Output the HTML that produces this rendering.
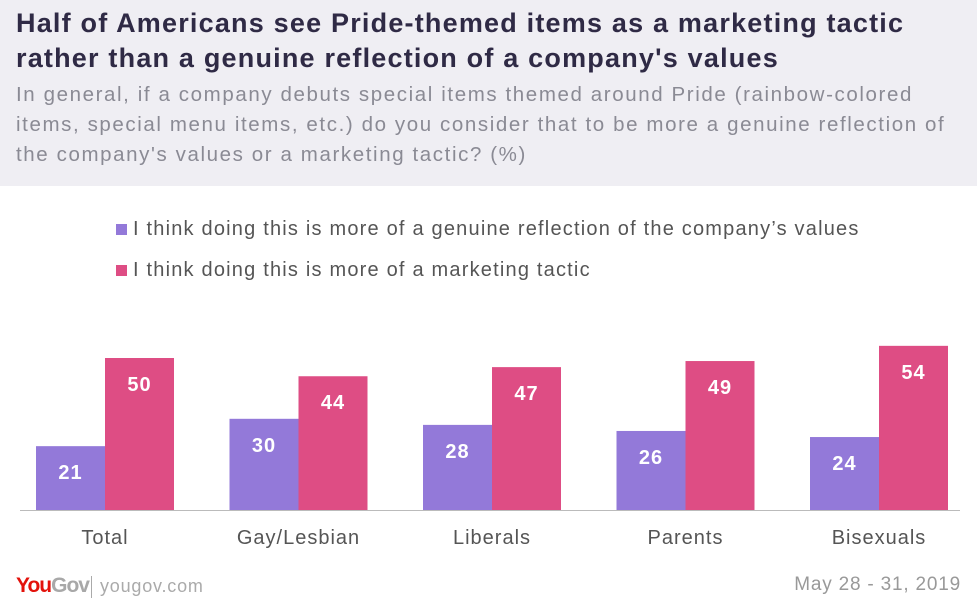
<!DOCTYPE html>
<html><head><meta charset="utf-8"><style>
body{margin:0;width:977px;height:602px;overflow:hidden;background:#fff;font-family:"Liberation Sans",sans-serif;position:relative}
.hdr{position:absolute;left:0;top:0;width:977px;height:186px;background:#efeef3}
.t{position:absolute;left:16px;font-weight:bold;font-size:27px;letter-spacing:1.2px;color:#2f2a45;white-space:nowrap}
.s{position:absolute;left:16px;font-size:20.5px;letter-spacing:1.6px;color:#8a8a94;white-space:nowrap}
.leg{position:absolute;left:116px;font-size:20px;letter-spacing:1.2px;color:#555;white-space:nowrap}
.leg i{display:inline-block;width:11px;height:11px;margin-right:6px}
</style></head><body>
<div class="hdr"></div>
<div class="t" style="top:8px">Half of Americans see Pride-themed items as a marketing tactic</div>
<div class="t" style="top:43px">rather than a genuine reflection of a company's values</div>
<div class="s" style="top:83px">In general, if a company debuts special items themed around Pride (rainbow-colored</div>
<div class="s" style="top:113px">items, special menu items, etc.) do you consider that to be more a genuine reflection of</div>
<div class="s" style="top:143px">the company's values or a marketing tactic? (%)</div>
<div class="leg" style="top:218px"><i style="background:#9379d9"></i>I think doing this is more of a genuine reflection of the company’s values</div>
<div class="leg" style="top:259px"><i style="background:#de4d84"></i>I think doing this is more of a marketing tactic</div>
<svg id="chart" width="977" height="602" style="position:absolute;left:0;top:0"></svg>
<div style="position:absolute;left:16px;top:574px;font-size:21px;font-weight:bold;letter-spacing:-1px;white-space:nowrap"><span style="color:#e3120b">You</span><span style="color:#a8a8a8">Gov</span></div>
<div style="position:absolute;left:91px;top:576px;width:1px;height:22px;background:#aaa"></div>
<div style="position:absolute;left:100px;top:576px;font-size:18px;letter-spacing:0.8px;color:#aaa">yougov.com</div>
<div style="position:absolute;right:16px;top:574px;font-size:19px;letter-spacing:0.8px;color:#999">May 28 - 31, 2019</div>
<script>
const categories=["Total","Gay/Lesbian","Liberals","Parents","Bisexuals"];
const genuine=[21,30,28,26,24];
const marketing=[50,44,47,49,54];
const svg=document.getElementById('chart');
const NS='http://www.w3.org/2000/svg';
const base=510, k=3.04;
const y=v=>base-v*k;
const x0=i=>36+i*193.5;
const bw=69;
function add(tag,attrs,txt){const e=document.createElementNS(NS,tag);for(const a in attrs)e.setAttribute(a,attrs[a]);if(txt!==undefined)e.textContent=txt;svg.appendChild(e);return e;}
categories.forEach((c,i)=>{
  [[genuine,'#9379d9',0,'genuine'],[marketing,'#de4d84',1,'marketing']].forEach(([arr,col,o,nm])=>{
    const v=arr[i];const bx=x0(i)+o*bw;
    const r=add('rect',{x:bx,y:y(v),width:bw,height:v*k,fill:col});
    
    
    const t=add('text',{x:bx+bw/2,y:y(v)+33,'text-anchor':'middle',fill:'#fff','font-size':'20','font-weight':'bold','letter-spacing':'1','font-family':'Liberation Sans'},v);
    
    
  });
  const l=add('text',{x:x0(i)+bw,y:544,'text-anchor':'middle',fill:'#555','font-size':'20','letter-spacing':'1','font-family':'Liberation Sans'},c);
  
  
});
const ax=add('line',{x1:20,x2:960,y1:base+0.5,y2:base+0.5,stroke:'#bbb','stroke-width':1});


</script>
</body></html>
